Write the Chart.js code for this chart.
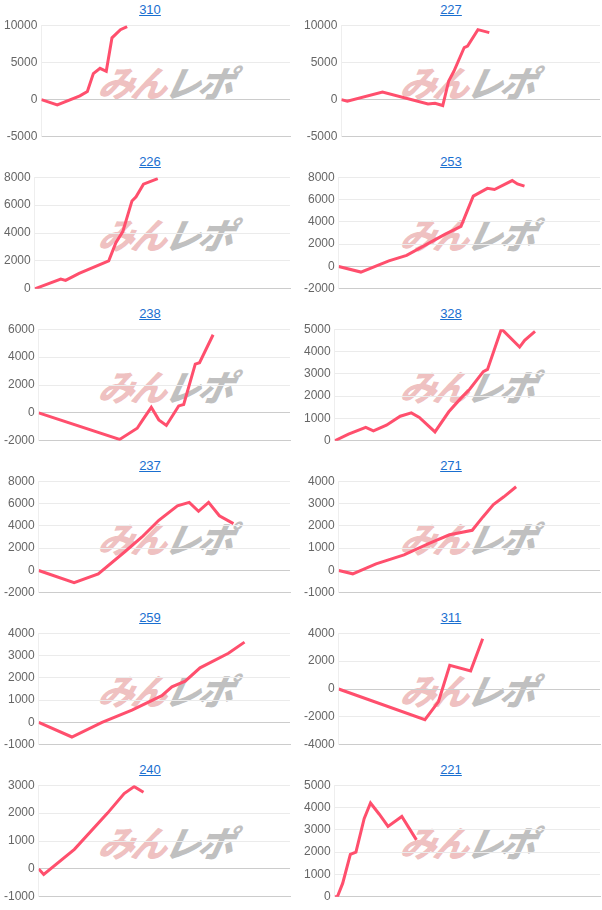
<!DOCTYPE html>
<html>
<head>
<meta charset="utf-8">
<script src="https://cdn.jsdelivr.net/npm/chart.js@4"></script>
<style>
  body { margin: 0; background: #fff; font-family: Arial, "Liberation Sans", sans-serif; }
  #grid { display: grid; grid-template-columns: 300px 302px; }
  .cell { position: relative; height: 152px; }
  .cell a { position: absolute; top: 2px; left: 0; right: 0; margin: 0 auto; width: 40px; text-align: center;
            font-size: 13px; color: #1a6fd0; text-decoration: underline; }
  .wm { position: absolute; top: 55px; left: 100px; font: italic 900 36px "Noto Sans CJK JP", sans-serif;
        letter-spacing: -3px; white-space: nowrap; transform: skewX(-12deg); }
  .wm .a { color: rgba(225,140,140,0.55); }
  .wm .b { color: rgba(150,150,150,0.6); }
  .cell canvas { position: absolute; top: 14px; left: 0; }
</style>
</head>
<body>
<div id="grid"></div>
<script>
// ---- Data (x = % of plot width, y = value) ----
const titles = ["310", "227", "226", "253", "238", "328", "237", "271", "259", "311", "240", "221"];

const x310 = [0, 6.4, 15.5, 18.5, 20.9, 23.6, 26.1, 28.4, 31.8, 34.5];
const y310 = [0, -700, 500, 1100, 3500, 4200, 3800, 8300, 9400, 9800];
const x227 = [0, 2.3, 15.9, 33.5, 36.2, 39.2, 41.5, 43.5, 47.5, 48.8, 52.8, 57.2];
const y227 = [0, -200, 1000, -600, -500, -800, 2500, 3800, 7000, 7200, 9400, 9000];
const x226 = [0, 10.2, 12.1, 17.4, 29.0, 31.8, 34.5, 38.1, 39.7, 42.6, 48.2];
const y226 = [0, 700, 600, 1100, 2000, 3300, 4100, 6300, 6600, 7500, 7900];
const x253 = [0, 8.5, 19.2, 26.0, 35.4, 40.8, 46.8, 51.5, 56.9, 59.6, 66.4, 68.4, 71.1];
const y253 = [0, -500, 500, 1000, 2200, 2900, 3600, 6300, 7000, 6900, 7700, 7400, 7200];
const x238 = [0, 32.2, 39.2, 41.4, 44.8, 47.8, 50.8, 55.7, 57.7, 62.3, 64.0, 69.4];
const y238 = [0, -1900, -1100, -500, 400, -500, -900, 500, 600, 3500, 3600, 5600];
const x328 = [0, 5.2, 11.7, 14.6, 19.5, 24.7, 28.9, 31.9, 37.8, 43.0, 47.5, 50.8, 56.0, 57.6, 62.8, 63.8, 69.7, 71.6, 75.5];
const y328 = [0, 300, 600, 450, 700, 1100, 1250, 1050, 400, 1300, 1900, 2300, 3100, 3200, 5000, 4900, 4200, 4500, 4900];
const x237 = [0, 14.1, 23.7, 34.4, 41.1, 47.8, 55.2, 59.9, 63.6, 67.6, 71.9, 77.5];
const y237 = [0, -1100, -300, 1700, 3000, 4500, 5800, 6100, 5300, 6100, 4900, 4200];
const x271 = [0, 5.4, 14.3, 25.0, 34.4, 42.4, 51.1, 55.2, 59.2, 63.2, 67.9];
const y271 = [0, -150, 300, 700, 1200, 1600, 1800, 2400, 2950, 3300, 3750];
const x259 = [0, 13.2, 25.2, 37.1, 49.0, 53.0, 58.3, 64.2, 75.5, 81.9];
const y259 = [0, -650, 0, 550, 1200, 1600, 1850, 2450, 3100, 3600];
const x311 = [0, 33.0, 38.2, 42.5, 50.5, 55.1];
const y311 = [0, -2200, -900, 1700, 1300, 3600];
const x240 = [0, 2.0, 14.2, 27.4, 34.0, 38.0, 41.7];
const y240 = [0, -200, 700, 2000, 2700, 2950, 2750];
const x221 = [0, 1.0, 3.0, 5.9, 8.0, 11.1, 13.5, 16.8, 20.1, 25.3, 30.8];
const y221 = [0, 0, 600, 1900, 2000, 3500, 4200, 3700, 3150, 3600, 2550];

const xs = [x310, x227, x226, x253, x238, x328, x237, x271, x259, x311, x240, x221];
const ys = [y310, y227, y226, y253, y238, y328, y237, y271, y259, y311, y240, y221];
const yMin = [-5000, -5000, 0, -2000, -2000, 0, -2000, -1000, -1000, -4000, -1000, 0];
const yMax = [10000, 10000, 8000, 8000, 6000, 5000, 8000, 4000, 4000, 4000, 3000, 5000];
const ySteps = [5000, 5000, 2000, 2000, 2000, 1000, 2000, 1000, 1000, 2000, 1000, 1000];

// ---- Build charts ----
const grid = document.getElementById("grid");

titles.forEach((t, i) => {
  const cell = document.createElement("div");
  cell.className = "cell";
  const w = i % 2 === 0 ? 300 : 302;
  cell.innerHTML = `<a href="#">${t}</a><div class="wm" style="left:${i % 2 ? 102 : 100}px"><span class="a">みん</span><span class="b">レポ</span></div>`;
  const canvas = document.createElement("canvas");
  canvas.style.width = w + "px";
  canvas.style.height = "134px";
  cell.appendChild(canvas);
  grid.appendChild(cell);

  new Chart(canvas.getContext("2d"), {
    type: "line",
    data: {
      datasets: [{
        data: xs[i].map((x, k) => ({ x: x, y: ys[i][k] })),
        borderColor: "#ff4f6d",
        borderWidth: 3,
        pointRadius: 0,
        tension: 0,
        fill: false
      }]
    },
    options: {
      responsive: false,
      animation: false,
      layout: { padding: { left: 0, right: i % 2 ? 2 : 10, top: 6, bottom: 0 } },
      plugins: { legend: { display: false }, tooltip: { enabled: false } },
      scales: {
        x: {
          type: "linear", min: 0, max: 100,
          ticks: { display: false },
          grid: { display: false },
          border: { color: "#ccc" }
        },
        y: {
          min: yMin[i], max: yMax[i],
          ticks: { stepSize: ySteps[i], color: "#666", font: { size: 12 }, padding: 4,
                   callback: v => String(v) },
          grid: {
            color: ctx => ctx.tick && ctx.tick.value === 0 ? "#ccc" : "#ebebeb",
            drawTicks: false
          },
          border: { color: "#eee" }
        }
      }
    }
  });
});
</script>
</body>
</html>
